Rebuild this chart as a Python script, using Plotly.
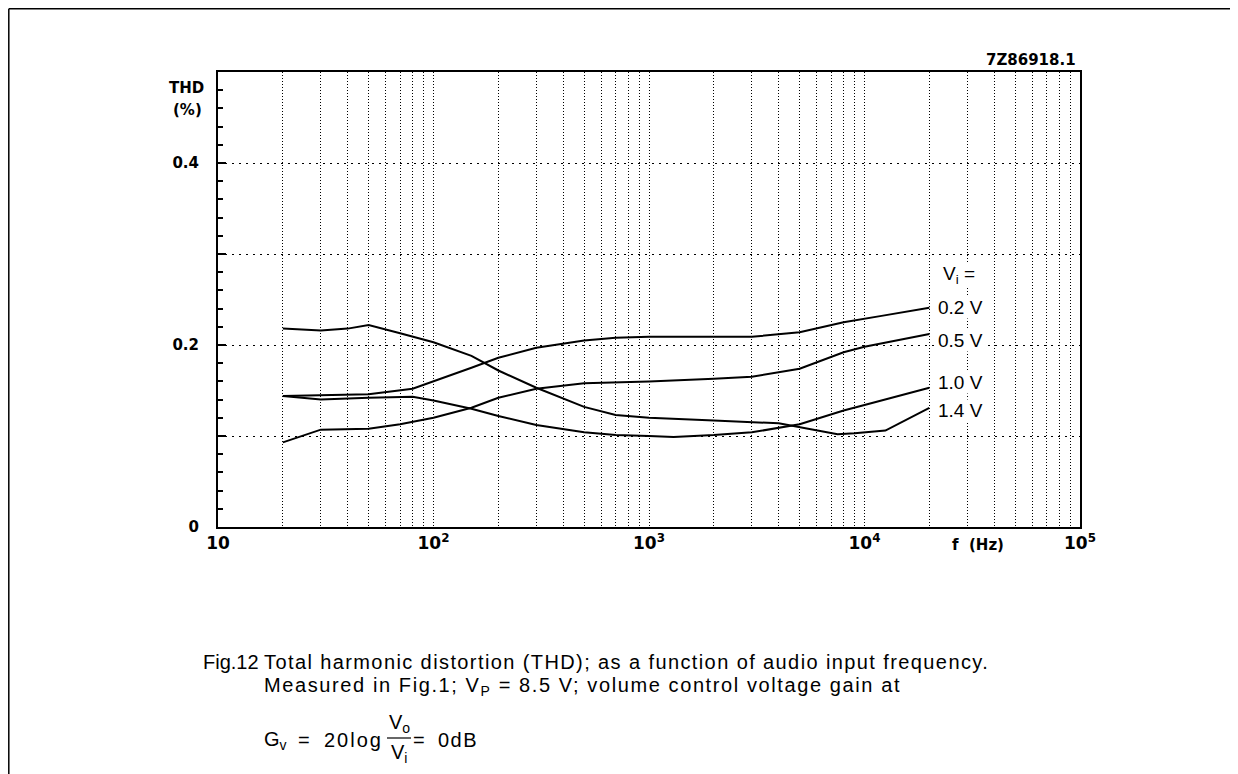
import plotly.graph_objects as go

# ---------------- data ----------------
freq_02 = [20, 30, 50, 80, 100, 150, 200, 300, 500, 700, 1000, 2000, 3000, 5000, 8000, 12000, 20000]
thd_02 = [0.144, 0.145, 0.146, 0.152, 0.160, 0.175, 0.186, 0.197, 0.205, 0.208, 0.209, 0.209, 0.209, 0.214, 0.225, 0.232, 0.241]

freq_05 = [20, 30, 50, 70, 100, 150, 200, 300, 500, 1000, 2000, 3000, 5000, 8000, 10000, 20000]
thd_05 = [0.093, 0.107, 0.108, 0.113, 0.120, 0.131, 0.142, 0.152, 0.158, 0.160, 0.163, 0.165, 0.174, 0.192, 0.198, 0.212]

freq_10 = [20, 30, 50, 80, 100, 150, 200, 300, 500, 700, 1000, 1300, 2000, 3000, 5000, 8000, 10000, 20000]
thd_10 = [0.144, 0.140, 0.142, 0.143, 0.139, 0.130, 0.122, 0.112, 0.104, 0.101, 0.100, 0.099, 0.101, 0.104, 0.113, 0.128, 0.134, 0.153]

freq_14 = [20, 30, 40, 50, 70, 100, 150, 200, 300, 500, 700, 1000, 2000, 4000, 7500, 9000, 12500, 20000]
thd_14 = [0.218, 0.216, 0.218, 0.222, 0.213, 0.203, 0.188, 0.172, 0.153, 0.132, 0.123, 0.120, 0.117, 0.114, 0.102, 0.103, 0.106, 0.131]

series_names = ["0.2 V", "0.5 V", "1.0 V", "1.4 V"]
x_tick_vals = [10, 100, 1000, 10000, 100000]
x_tick_text = ["10", "10<sup>2</sup>", "10<sup>3</sup>", "10<sup>4</sup>", "10<sup>5</sup>"]
y_tick_vals = [0, 0.1, 0.2, 0.3, 0.4]
y_tick_text = ["0", "", "0.2", "", "0.4"]

# ---------------- layout geometry (page pixels; page body has an 8px margin) ----------------
OFF = 8
W, H = 1238 - OFF, 774 - OFF
L, R, T, B = 218 - OFF, 1080 - OFF, 72 - OFF, 527 - OFF


def px(x):
    return (x - OFF - L) / (R - L)


def py(y):
    return (B - (y - OFF)) / (B - T)


fig = go.Figure()
for f, v, n in zip([freq_02, freq_05, freq_10, freq_14], [thd_02, thd_05, thd_10, thd_14], series_names):
    fig.add_trace(go.Scatter(x=f, y=v, mode="lines", name=n,
                             line=dict(color="black", width=2), showlegend=False))

minor_vals = [m * 10 ** d for d in range(1, 5) for m in range(2, 10)]

fig.update_xaxes(type="log", range=[1, 5], showline=True, linecolor="black", linewidth=2, mirror=True,
                 tickvals=x_tick_vals, ticktext=x_tick_text, ticks="",
                 tickfont=dict(family="DejaVu Sans", size=17, color="black", weight="bold"),
                 showgrid=True, gridcolor="black", gridwidth=1, griddash="1px,2px", zeroline=False,
                 minor=dict(tickvals=minor_vals, showgrid=True, gridcolor="black", gridwidth=1,
                            griddash="1px,2px", ticks=""))
fig.update_yaxes(range=[0, 0.5], showline=True, linecolor="black", linewidth=2, mirror=True,
                 tickvals=y_tick_vals, ticktext=y_tick_text, ticks="inside", ticklen=8, tickwidth=2,
                 tickcolor="black", ticklabelstandoff=14,
                 tickfont=dict(family="DejaVu Sans", size=15, color="black", weight="bold"),
                 showgrid=True, gridcolor="black", gridwidth=1, griddash="2px,5px", zeroline=False,
                 minor=dict(tick0=0, dtick=0.02, ticks="inside", ticklen=5, tickwidth=1.5,
                            tickcolor="black", showgrid=False))

ann = []


def A(text, x, y, xa="left", ya="middle", size=16, family="Liberation Sans", weight="normal", bg=None):
    d = dict(text=text, x=px(x), y=py(y), xref="paper", yref="paper", xanchor=xa, yanchor=ya,
             showarrow=False, font=dict(family=family, size=size, color="black", weight=weight))
    if bg:
        d.update(bgcolor=bg, borderpad=0)
    ann.append(d)


def sp(t, s=1.5):
    return "<span style='letter-spacing:%spx'>%s</span>" % (s, t)


# axis titles and code
A("THD", 206, 88, xa="right", size=15, family="DejaVu Sans", weight="bold")
A("(%)", 204, 110, xa="right", size=15, family="DejaVu Sans", weight="bold")
A("f  (Hz)", 978, 545, xa="center", size=15, family="DejaVu Sans", weight="bold")
A("7Z86918.1", 1078, 60, xa="right", size=15, family="DejaVu Sans", weight="bold")

# curve labels
A("V<sub>i</sub> =", 942, 275, size=19, bg="white")
for name, yy in zip(series_names, [307, 340, 382, 410]):
    A(name, 937, yy, size=19, bg="white")

# caption
A("Fig.12", 201, 662, size=20)
A(sp("Total harmonic distortion (THD); as a function of audio input frequency.", 1.4), 262, 662, size=20)
A(sp("Measured in Fig.1; V<sub>P</sub> = 8.5 V; volume control voltage gain at", 1.6), 262, 686, size=20)
A("G<sub>v</sub>", 262, 740, size=20)
A("=", 296, 740, size=20)
A(sp("20log", 2), 322, 740, size=20)
A("V<sub>o</sub>", 399, 723, xa="center", size=20)
A("V<sub>i</sub>", 399, 753, xa="center", size=20)
A("=", 411, 740, size=20)
A(sp("0dB", 1.5), 436, 740, size=20)

shapes = [
    dict(type="line", xref="paper", yref="paper", x0=px(387), x1=px(411), y0=py(738), y1=py(738),
         line=dict(color="black", width=1.2)),
    dict(type="line", xref="paper", yref="paper", x0=px(OFF + 0.8), x1=px(1238 + 5), y0=py(OFF + 0.8), y1=py(OFF + 0.8),
         line=dict(color="black", width=1.5)),
    dict(type="line", xref="paper", yref="paper", x0=px(OFF + 0.8), x1=px(OFF + 0.8), y0=py(OFF + 0.8), y1=py(774 + 5),
         line=dict(color="black", width=1.5)),
]

fig.update_layout(width=W, height=H, margin=dict(l=L, r=W - R, t=T, b=H - B),
                  plot_bgcolor="white", paper_bgcolor="white", annotations=ann, shapes=shapes,
                  showlegend=False)

fig.write_html("out.html")
